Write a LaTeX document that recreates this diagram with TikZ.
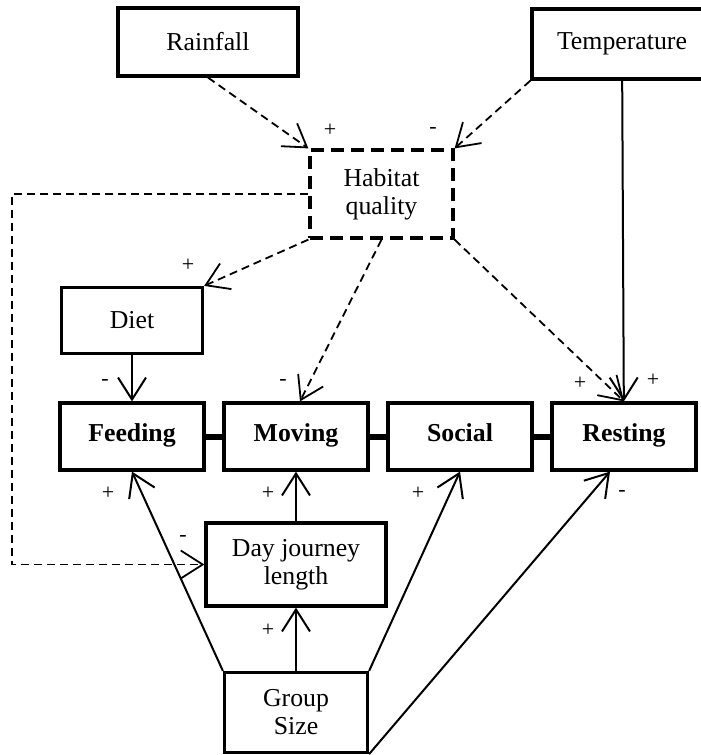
\documentclass[tikz,border=0pt]{standalone}
\usepackage{fontspec}
\setmainfont{Liberation Serif}
\usetikzlibrary{arrows.meta, positioning}

\begin{document}
\begin{tikzpicture}[x=0.5pt, y=-0.5pt, node distance=82pt, on grid,
        >={Straight Barb[length=11pt, width=14pt]},
        box/.style={draw, line width=1.6pt, inner sep=0pt, align=center,
            font=\fontsize{12.9}{14}\selectfont},
        act/.style={box, minimum width=72pt, minimum height=33.5pt,
            text height=1.6ex, text depth=0.5ex,
            font=\fontsize{12.9}{14}\selectfont\bfseries},
        dep/.style={->, line width=0.9pt, dash pattern=on 4pt off 2.5pt},
        direct/.style={->, line width=1pt},
        link/.style={line width=3pt},
        sign/.style={font=\fontsize{11}{12}\selectfont, inner sep=0pt}]
        \useasboundingbox (0,0) rectangle (701,755);
        \clip (0,0) rectangle (701,755);

        \node[box, minimum width=90pt, minimum height=34pt] (rainfall) at (208,42) {Rainfall};
        \node[box, minimum width=90pt, minimum height=35pt] (temperature) at (622,44) {Temperature};
        \node[box, dash pattern=on 6.5pt off 3.5pt, minimum width=71.5pt, minimum height=44pt]
            (habitat) at (381.5,194) {Habitat\\quality};

        \node[act] (feeding) at (132,436.5) {Feeding};
        \node[act] (moving) [right=of feeding] {Moving};
        \node[act] (social) [right=of moving] {Social};
        \node[act] (resting) [right=of social] {Resting};

        \node[box, minimum width=70.5pt, minimum height=33pt] (diet) [above=58pt of feeding] {Diet};
        \node[box, minimum width=90pt, minimum height=41.5pt] (journey) [below=64pt of moving] {Day journey\\length};
        \node[box, minimum width=71.5pt, minimum height=40pt] (groupsize) [below=74pt of journey] {Group\\Size};
        \coordinate (loopcorner) at (12,194);

        % activity budget
        \draw[link] (feeding) -- (moving) (moving) -- (social) (social) -- (resting);

        % habitat effects
        \path[dep]
        (rainfall.south) edge (habitat.north west)
        (temperature.south west) edge (habitat.north east)
        (habitat.south west) edge (diet.north east)
        (habitat.south) edge ([xshift=2pt]moving.north)
        (habitat.south east) edge (resting.north);
        \draw[dep] (habitat.west) -- (loopcorner) |- (journey.west);

        % direct effects
        \path[direct]
        (temperature) edge (resting)
        (diet) edge (feeding)
        (groupsize.north west) edge (feeding.south)
        (groupsize) edge (journey)
        (journey) edge (moving)
        (groupsize.north east) edge (social.south)
        (groupsize.south east) edge ([xshift=-7pt]resting.south);

        \node[sign] (rainsign) at (330,130) {+};
        \node[sign] (tempsign) at (433,130) {-};
        \node[sign] (dietsign) at (188,265) {+};
        \node[sign] (feedsign) at (105,382) {-};
        \node[sign] (movesign) at (283,382) {-};
        \node[sign] (restsign) at (580,383) {+};
        \node[sign] (heatsign) at (653,380) {+};
        \node[sign] (groupfeed) at (108,493) {+};
        \node[sign] (journeymove) at (268,493) {+};
        \node[sign] (groupsocial) at (418,493) {+};
        \node[sign] (grouprest) at (622,493) {-};
        \node[sign] (habitatjourney) at (183,538) {-};
        \node[sign] (groupjourney) at (268,630) {+};
    \end{tikzpicture}
\end{document}
